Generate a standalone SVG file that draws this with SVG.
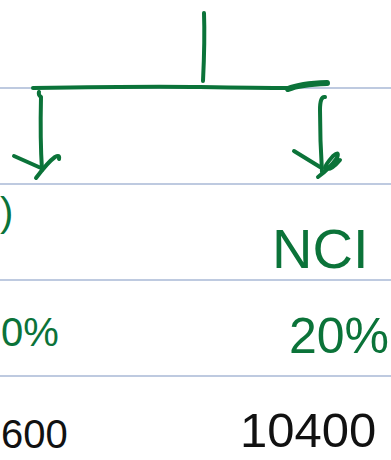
<svg xmlns="http://www.w3.org/2000/svg" width="391" height="460" viewBox="0 0 391 460">
<style>
.rule{stroke:#a9b8d6;stroke-width:1.3}
.pen{fill:none;stroke:#0b7339;stroke-width:4;stroke-linecap:round;stroke-linejoin:round}
.g{fill:#0b7339;font-family:"Liberation Sans",sans-serif}
.k{fill:#111;font-family:"Liberation Sans",sans-serif}
</style>
<rect width="391" height="460" fill="#fff"/>
<g id="rules">
<line class="rule" x1="0" y1="88" x2="391" y2="88"/>
<line class="rule" x1="0" y1="184" x2="391" y2="184"/>
<line class="rule" x1="0" y1="280" x2="391" y2="280"/>
<line class="rule" x1="0" y1="376" x2="391" y2="376"/>
</g>
<g id="connectors">
<path class="pen" d="M204 13 Q205 40 203 81"/>
<path class="pen" d="M33 88 Q150 86 200 87 Q260 88 290 88"/>
<path class="pen" d="M288 89 Q300 84 327 83" style="stroke-width:6"/>
<path class="pen" d="M39 92 Q38 95 41 97 Q40 140 42 170"/>
<path class="pen" d="M14 156 L41 168"/>
<path class="pen" d="M36 178 Q48 162 55 157 Q60 154 59 159"/>
<path class="pen" d="M325 97 Q320 96 320 110 Q320 140 322 172"/>
<path class="pen" d="M294 151 L320 167"/>
<path class="pen" d="M318 177 Q330 168 337 158 Q340 150 333 156 Q325 165 325 168 Q330 172 340 160"/>
</g>
<g id="parent">
<text class="g" x="0" y="226" font-size="40">)</text>
<text class="g" x="1" y="346" font-size="40">0%</text>
<text class="k" x="1" y="448" font-size="40">600</text>
</g>
<g id="nci">
<text class="g" x="272" y="268" font-size="56">NCI</text>
<text class="g" x="289" y="353" font-size="50">20%</text>
<text class="k" x="240" y="447" font-size="49">10400</text>
</g>
</svg>
